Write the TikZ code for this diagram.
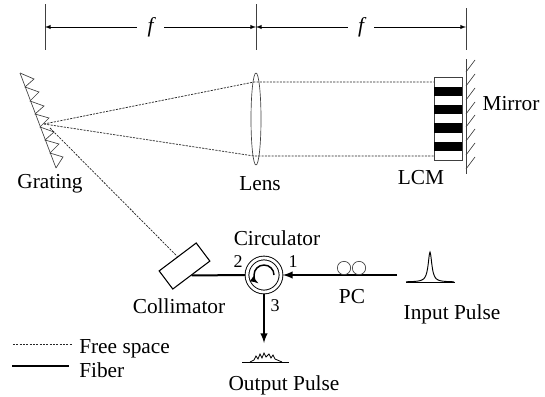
\documentclass[tikz,border=0pt]{standalone}
\usepackage{fontspec}
\setmainfont{Liberation Serif}
\usetikzlibrary{positioning,calc,arrows,shapes.geometric}

\begin{document}
\begin{tikzpicture}[
        x=0.75pt, y=-0.75pt,
        tag/.style={align=center, inner sep=0pt, font=\fontsize{16}{16}\selectfont},
        portnum/.style={inner sep=0pt, font=\fontsize{13.5}{13.5}\selectfont},
        focal/.style={fill=white, inner sep=0pt, minimum width=20pt, minimum height=14pt, font=\fontsize{16}{16}\selectfont\itshape},
        thinline/.style={draw=black!75, line width=0.5pt},
        freespace/.style={draw=black!85, line width=0.55pt, dash pattern=on 1.6pt off 0.9pt},
        fiber/.style={draw=black, line width=1.5pt},
        bar/.style={fill=black, inner sep=0pt, minimum width=21pt, minimum height=7pt}
      ]
      \useasboundingbox (0,0) rectangle (545,396);

      % dimension line
      \coordinate (d1) at (45,27);
      \coordinate (d2) at (256,27);
      \coordinate (d3) at (466,27);
      \draw[thinline] (45,4) -- (45,50) (256,4) -- (256,50) (466,8) -- (466,50);
      \path[latex-latex, line width=0.5pt] (d1) edge node[focal] {f} (d2);
      \path[latex-latex, line width=0.5pt] (d2) edge node[focal] {f} (d3);

      % grating
      \coordinate (focus) at (44,124);
      \coordinate (gr) at (50,128);
      \draw[thinline] (20,73) -- (56,168);
      \draw[thinline] (20,73) -- (34,79) -- (25,87) -- (39,92) -- (30,101) -- (44,106) -- (35,114) -- (49,118) -- (40,127) -- (54,132) -- (45,140) -- (59,144) -- (50,153) -- (63,157) -- (56,168);
      \node (grating) [tag] at (50,184) {Grating};

      % lens, lcm, mirror
      \node (lens) [ellipse, thinline, inner sep=0pt, minimum width=7.5pt, minimum height=69pt] at (256,119) {};
      \node (lenstag) [tag, node distance=0.85em, xshift=3pt, below=of lens] {Lens};
      \node (lcm) [rectangle, thinline, inner sep=0pt, minimum width=21pt, minimum height=62.5pt] at (448,118.5) {};
      \foreach \y in {91.5,109.5,128,146.5} {
        \node [bar] at (448,\y) {};
      }
      \node (lcmtag) [tag] at (421,178) {LCM};
      \draw[thinline] (466,59) -- (466,174);
      \foreach \y in {72,86,100,114,127,141,155,169} {
        \draw[thinline] (466,\y) -- ++(9,-12);
      }
      \node (mirrortag) [tag] at (511,104) {Mirror};

      % free space beams
      \coordinate (lcmtop) at (lcm.west |- 0,82);
      \coordinate (lcmbot) at (lcm.west |- 0,156);
      \draw[freespace] (focus) -- (254,82) -- (lcmtop);
      \draw[freespace] (focus) -- (254,156) -- (lcmbot);

      % circulator part
      \node (circ) [circle, draw, line width=0.7pt, double, double distance=2.1pt, inner sep=0pt, outer sep=1.4pt, minimum size=25.5pt] at (264,275) {};
      \draw[line width=1.1pt, -latex] ([xshift=7.5pt]circ.center) arc[start angle=0, end angle=236, radius=7.5pt];
      \node (circtag) [tag] at (277,238) {Circulator};
      \node (col) [rectangle, rotate=37, line width=0.8pt, draw=black, inner sep=0pt, minimum width=34.8pt, minimum height=17pt] at (184.5,266) {};
      \node (coltag) [tag] at (179,306) {Collimator};
      \node (p2) [portnum] at (238,262) {2};
      \node (p1) [portnum] at (293,262) {1};
      \node (p3) [portnum] at (275,306) {3};

      \draw[freespace] (gr) -- (col.north);
      \draw[fiber] (col.south) -- (circ.west);
      \coordinate (in) at (397,275);
      \draw[fiber, -latex] (in) -- (circ.east);
      \coordinate (out) at (264,343);
      \draw[fiber, -latex] (circ.south) -- (out);

      % pc
      \node (pc1) [circle, thinline, inner sep=0pt, minimum size=10pt] at (344,268) {};
      \node (pc2) [circle, thinline, inner sep=0pt, minimum size=10pt] at (359,268) {};
      \node (pctag) [tag] at (352,297) {PC};

      % pulses
      \draw[thinline, draw=black] (406,282) -- (455,282);
      \draw[draw=black, line width=0.7pt, smooth] plot[domain=-24:24, samples=61] (430+\x, {282-30/(1+(\x/2.2)*(\x/2.2))});
      \node (inputtag) [tag] at (452,314) {Input Pulse};
      \draw[thinline, draw=black] (242,362) -- (289,362);
      \draw[draw=black, line width=0.6pt] (250,362) -- (254,360) -- (256,356) -- (258,359) -- (260,354) -- (262,358) -- (264,353) -- (266,357) -- (269,354) -- (271,358) -- (273,355) -- (275,359) -- (282,362);
      \node (outputtag) [tag] at (284,385) {Output Pulse};

      % legend
      \coordinate (l1) at (13,344);
      \coordinate (l2) at (72,344);
      \coordinate (l3) at (12,366);
      \coordinate (l4) at (69,366);
      \draw[freespace] (l1) -- (l2);
      \draw[fiber] (l3) -- (l4);
      \node (freetag) [tag, anchor=west] at (79,349) {Free space};
      \node (fibertag) [tag, anchor=west] at (79,370) {Fiber};

    \end{tikzpicture}
\end{document}
